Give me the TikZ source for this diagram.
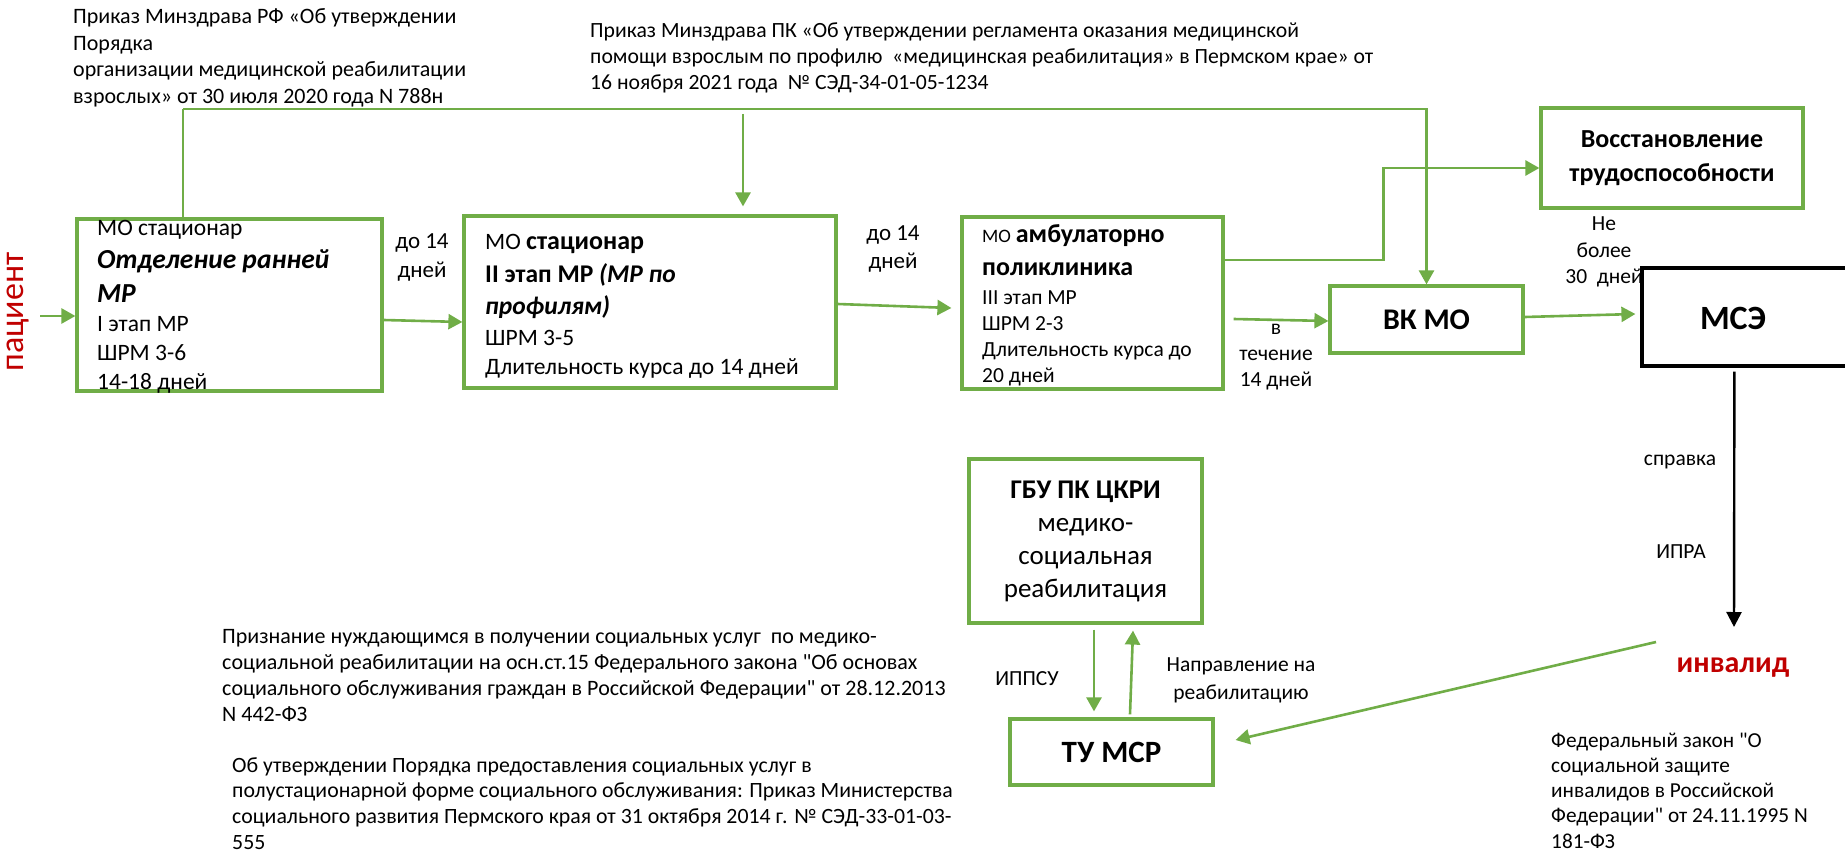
\documentclass[tikz,border=0pt]{standalone}
\usepackage{fontspec}
\setmainfont{Carlito}[Ligatures=TeXOff]
\usetikzlibrary{arrows.meta,calc}
\definecolor{gr}{HTML}{70AD47}
\definecolor{dred}{HTML}{C00000}
\newcommand\fsz[2]{\fontsize{#1}{#2}\selectfont}
\begin{document}
\begin{tikzpicture}[x=1pt,y=-1pt,
  gbox/.style={draw=gr,line width=3.2pt,inner sep=0pt},
  garrow/.style={draw=gr,line width=2.6pt,-{Triangle[length=14pt,width=15pt]}},
  gthin/.style={draw=gr,line width=1.4pt},
  barrow/.style={draw=black,line width=2.4pt,-{Triangle[length=15pt,width=15pt]}},
  txt/.style={inner sep=0pt,align=flush left,anchor=base west,text width=#1},
  ctxt/.style={inner sep=0pt,align=center}]
\useasboundingbox (0,0) rectangle (1845,853);

% top texts
\node[txt=430pt,font=\fsz{22}{26.7}] (tl) at (73,23.5) {Приказ Минздрава РФ «Об утверждении\\Порядка\\организации медицинской реабилитации\\взрослых» от 30 июля 2020 года N 788н};
\node[txt=880pt,font=\fsz{21.7}{26}] (tc) at (590,38) {Приказ Минздрава ПК «Об утверждении регламента оказания медицинской\\помощи взрослым по профилю\ \ «медицинская реабилитация» в Пермском крае» от\\16 ноября 2021 года\ \ № СЭД-34-01-05-1234};

% boxes
\node[gbox,minimum width=305pt,minimum height=172pt] (b1) at (229.5,305) {};
\node[gbox,minimum width=372pt,minimum height=172pt] (b2) at (650,302) {};
\node[gbox,minimum width=261pt,minimum height=172pt] (b3) at (1092.5,303) {};
\node[gbox,minimum width=262pt,minimum height=100pt,align=center,font=\fsz{26}{34}\bfseries] (vr) at (1672,158) {Восстановление\\трудоспособности};
\node[gbox,minimum width=193pt,minimum height=67pt,font=\fsz{30}{34}\bfseries] (vk) at (1426.5,319.5) {ВК МО};
\node[draw=black,line width=3.2pt,inner sep=0pt,minimum width=230pt,minimum height=98pt] (mse) at (1757,317) {};
\node[gbox,minimum width=233pt,minimum height=164pt,align=center,font=\fsz{27}{33}] (gbu) at (1085.5,541) {\textbf{ГБУ ПК ЦКРИ}\\медико-\\социальная\\реабилитация};
\node[gbox,minimum width=203pt,minimum height=66pt,font=\fsz{31}{36}\bfseries] (tu) at (1111.5,752) {ТУ МСР};

% box texts
\node[txt=300pt,font=\fsz{23.5}{29}] (b1t) at (97,236) {МО стационар\\[4pt]{\fsz{27.5}{29}\bfseries\itshape Отделение ранней}\\[5pt]{\fsz{27.5}{29}\bfseries\itshape МР}\\I этап МР\\ШРМ 3-6\\14-18 дней};
\node[txt=380pt,font=\fsz{23.5}{29}] (b2t) at (485,250) {МО {\fsz{26}{29}\bfseries стационар}\\[4pt]{\fsz{25.5}{29}\bfseries II этап МР \itshape(МР по}\\[3pt]{\fsz{25.5}{29}\bfseries\itshape профилям)}\\[2pt]ШРМ 3-5\\Длительность курса до 14 дней};
\node[txt=260pt,font=\fsz{21.5}{26}] (b3t) at (982,243) {{\fsz{19}{26}МО} {\fsz{26}{26}\bfseries амбулаторно}\\[7pt]{\fsz{26}{26}\bfseries поликлиника}\\[3pt]III этап МР\\ШРМ 2-3\\Длительность курса до\\20 дней};
\node[inner sep=0pt,font=\fsz{34}{40}\bfseries] (mset) at (1733,318) {МСЭ};

% patient / invalid
\node[rotate=90,inner sep=0pt,font=\fsz{34}{40},text=dred] (pac) at (18,312) {пациент};
\node[inner sep=0pt,font=\fsz{30}{36}\bfseries,text=dred] (inv) at (1733,668) {инвалид};

% labels
\node[ctxt,font=\fsz{23}{29}] (l12) at (422,257.5) {до 14\\дней};
\node[ctxt,font=\fsz{23}{28}] (l23) at (893,249) {до 14\\дней};
\node[ctxt,font=\fsz{21.5}{26}] (l3v) at (1276,357) {в\\течение\\14 дней};
\node[ctxt,font=\fsz{21.5}{26.5}] (lvm) at (1604,252) {Не\\более\\30\ \ дней};
\node[ctxt,font=\fsz{21.5}{26}] (lsp) at (1680,462) {справка};
\node[ctxt,font=\fsz{21.5}{26}] (lip) at (1681,552) {ИПРА};
\node[ctxt,font=\fsz{21.5}{26}] (lipp) at (1027,679) {ИППСУ};
\node[ctxt,font=\fsz{21.5}{28}] (lnap) at (1241,680) {Направление на\\реабилитацию};

% bottom texts
\node[txt=320pt,font=\fsz{21.3}{25.3}] (fz) at (1551,747) {Федеральный закон "О\\социальной защите\\инвалидов в Российской\\Федерации" от 24.11.1995 N\\181-ФЗ};
\node[txt=800pt,font=\fsz{22}{26.3}] (pr) at (222,643) {Признание нуждающимся в получении социальных услуг\ \ по медико-\\социальной реабилитации на осн.ст.15 Федерального закона "Об основах\\социального обслуживания граждан в Российской Федерации" от 28.12.2013\\N 442-ФЗ};
\node[txt=800pt,font=\fsz{21.8}{25.8}] (ob) at (232,772) {Об утверждении Порядка предоставления социальных услуг в\\полустационарной форме социального обслуживания: Приказ Министерства\\социального развития Пермского края от 31 октября 2014 г. № СЭД-33-01-03-\\555};

% connectors
\coordinate (pin) at (40,316);
\draw[garrow] (pin) -- (pin -| b1.west);
\draw[garrow] ($(b1.east)+(0,15)$) -- ($(b2.west)+(0,20)$);
\draw[garrow] ($(b2.east)+(0,2)$) -- ($(b3.west)+(-9,5)$);
\draw[garrow] ($(b3.east)+(9,16)$) -- ($(vk.west)+(0,1.5)$);
\draw[garrow] ($(b3.east)+(0,-43)$) -| ($(vr.west)+(-156,10)$) -- ($(vr.west)+(0,10)$);
\coordinate (tj) at (183,109);
\draw[gthin] (tj |- b1.north) -- (tj);
\draw[garrow] (tj) -| (vk.north);
\coordinate (tca) at (743,114);
\draw[garrow] (tca) -- ($(b2.north)+(93,-8)$);
\draw[garrow] ($(vk.east)+(0,-2.5)$) -- ($(mse.west)+(-5,-3)$);
\draw[barrow] ($(mse.south west)+(94,4)$) -- ($(inv.center)+(1,-41)$);
\draw[garrow] ($(inv.center)+(-77,-26)$) -- ($(tu.east)+(21,-12)$);
\draw[garrow] ($(gbu.south)+(8.5,5)$) -- ($(tu.north)+(-17.5,-6)$);
\draw[garrow] ($(tu.north)+(18.5,-3)$) -- ($(gbu.south)+(47.5,6)$);
\end{tikzpicture}
\end{document}
